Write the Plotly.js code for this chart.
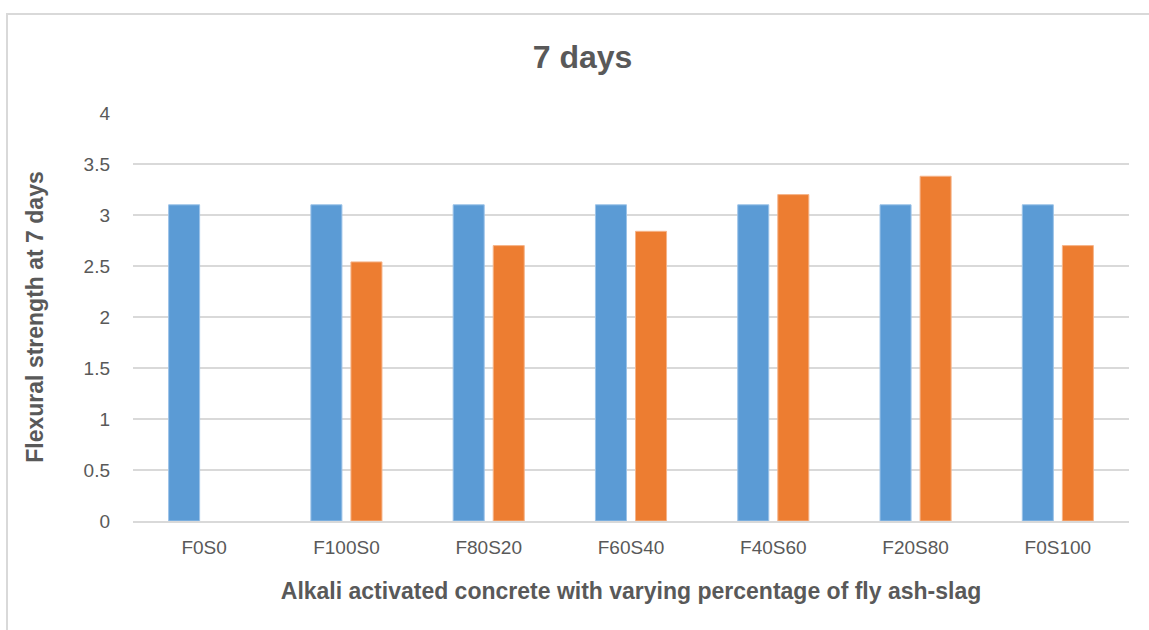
<!DOCTYPE html>
<html>
<head>
<meta charset="utf-8">
<script src="https://cdn.plot.ly/plotly-3.0.1.min.js"></script>
<style>
html,body{margin:0;padding:0;background:#fff;}
#wrap{position:relative;width:1149px;height:630px;overflow:hidden;}
#chart{width:1149px;height:630px;}
#frame{position:absolute;left:6px;top:13px;width:1150px;height:630px;border-top:2px solid #d9d9d9;border-left:2px solid #d9d9d9;pointer-events:none;}
</style>
</head>
<body>
<div id="wrap"><div id="chart"></div><div id="frame"></div></div>
<script>
const categories = ["F0S0","F100S0","F80S20","F60S40","F40S60","F20S80","F0S100"];
const seriesA = [3.1, 3.1, 3.1, 3.1, 3.1, 3.1, 3.1];
const seriesB = [null, 2.54, 2.70, 2.84, 3.20, 3.38, 2.70];
const yTicks = [0, 0.5, 1, 1.5, 2, 2.5, 3, 3.5, 4];
const yTickText = ["0","0.5","1","1.5","2","2.5","3","3.5","4"];

const FONT = '"Liberation Sans", Arial, sans-serif';
const GREY = '#595959';

const traces = [
  {type:'bar', name:'Series 1', x:categories, y:seriesA,
   marker:{color:'#5b9bd5', line:{color:'#9cc3e8', width:1}}},
  {type:'bar', name:'Series 2', x:categories, y:seriesB,
   marker:{color:'#ed7d31', line:{color:'#f5b48a', width:1}}}
];

const layout = {
  width:1149, height:630,
  margin:{l:133, r:20, t:112.5, b:108.5},
  paper_bgcolor:'#fff', plot_bgcolor:'#fff',
  showlegend:false,
  barmode:'group', bargap:0.437, bargroupgap:0.225,
  font:{family:FONT, color:GREY, size:19},
  title:{text:'<b>7 days</b>', font:{family:FONT, size:32, color:GREY},
         xref:'container', x:0.507, xanchor:'center',
         yref:'container', y:1-57/630, yanchor:'middle'},
  xaxis:{
    type:'category',
    showgrid:false, zeroline:false,
    showline:true, linecolor:'#d9d9d9', linewidth:2,
    ticks:'', tickfont:{family:FONT, size:19, color:GREY},
    ticklabelstandoff:8,
    title:{text:'<b>Alkali activated concrete with varying percentage of fly ash-slag</b>',
           font:{family:FONT, size:23, color:GREY}, standoff:26}
  },
  yaxis:{
    range:[0,4], tickvals:yTicks, ticktext:yTickText,
    showgrid:true, gridcolor:'#d9d9d9', gridwidth:1.5,
    zeroline:false, showline:false, ticks:'',
    tickfont:{family:FONT, size:19, color:GREY},
    ticklabelstandoff:22,
    title:{text:'<b>Flexural strength at 7 days</b>',
           font:{family:FONT, size:23, color:GREY}, standoff:33}
  }
};

Plotly.newPlot('chart', traces, layout, {displayModeBar:false, staticPlot:true});
</script>
</body>
</html>
